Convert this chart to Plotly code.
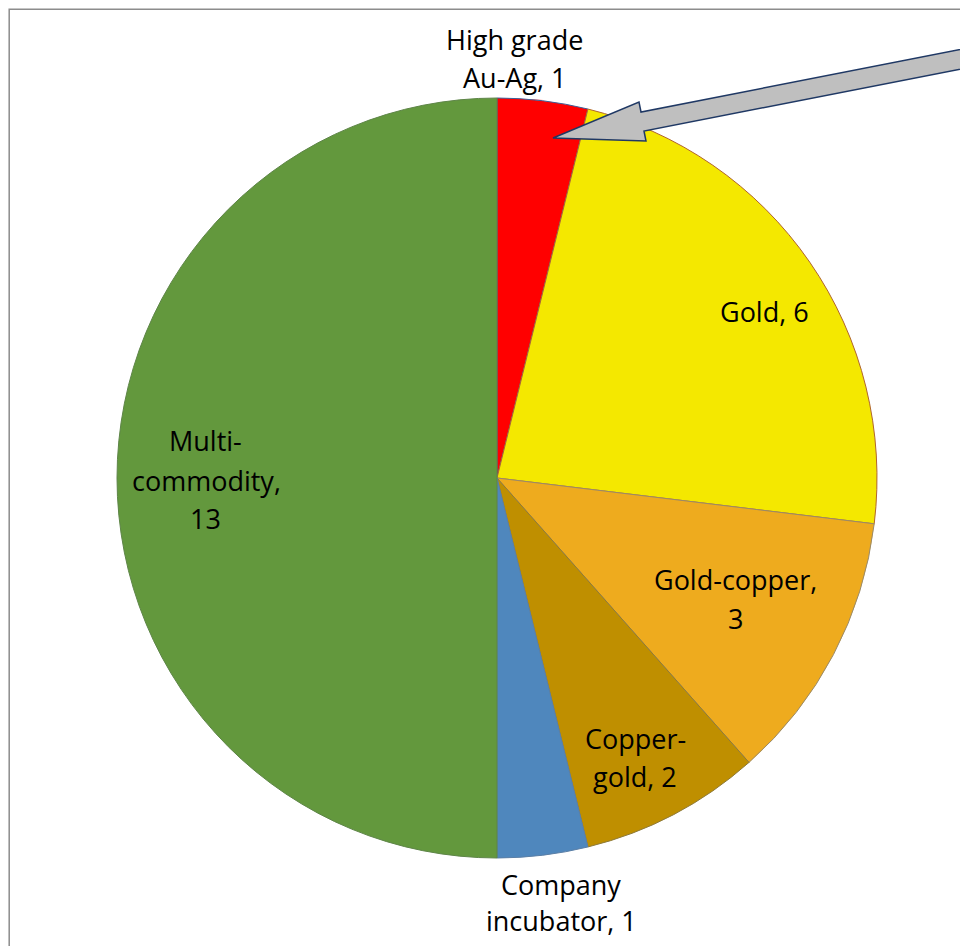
import plotly.graph_objects as go

# ---- data ----
categories = ["High grade Au-Ag", "Gold", "Gold-copper", "Copper-gold",
              "Company incubator", "Multi-commodity"]
values = [1, 6, 3, 2, 1, 13]
label_lines = [
    ["High grade", "Au-Ag, 1"],
    ["Gold, 6"],
    ["Gold-copper,", "3"],
    ["Copper-", "gold, 2"],
    ["Company", "incubator, 1"],
    ["Multi-", "commodity,", "13"],
]

# ---- styling ----
fill_colors = ["#FF0000", "#F4E800", "#EEAB1E", "#BF8F00", "#4F87BD", "#63983D"]
edge_colors = ["#3F5E96", "#B0652E", "#9A8A6A", "#8E7A3A", "#5B7FA6", "#5E8548"]

OFF = 8          # page body margin
W, H = 960, 938  # figure size
CX, CY, R = 497, 478, 380  # pie geometry in screen pixels

def px(x):
    return (x - OFF) / W

def py(y):
    return 1 - (y - OFF) / H

# label line centres (screen pixels) for each slice's text lines
label_pos = [
    [(515, 40), (515, 77)],
    [(764, 311)],
    [(735, 579), (735, 618)],
    [(635, 738), (635, 776)],
    [(561, 884), (561, 920)],
    [(205, 441), (206, 480), (205, 518)],
]

fig = go.Figure(go.Pie(
    labels=categories,
    values=values,
    sort=False,
    direction="clockwise",
    rotation=0,
    textinfo="none",
    hoverinfo="label+value",
    marker=dict(colors=fill_colors, line=dict(color=edge_colors, width=1)),
    domain=dict(x=[px(CX - R), px(CX + R)], y=[py(CY + R), py(CY - R)]),
    showlegend=False,
))

annotations = []
for lines, poss in zip(label_lines, label_pos):
    for t, (x, y) in zip(lines, poss):
        annotations.append(dict(
            text=t, x=px(x), y=py(y), xref="paper", yref="paper",
            xanchor="center", yanchor="middle", showarrow=False,
            font=dict(family="Open Sans", size=27, color="#000000"),
        ))

# block arrow pointing at the High grade slice
arrow_pts = [(553, 138), (639, 102), (641, 112), (1000, 41.7),
             (1000, 61.5), (644, 131), (646, 141)]
path = "M " + " L ".join(f"{px(x):.5f},{py(y):.5f}" for x, y in arrow_pts) + " Z"

shapes = [
    dict(type="rect", xref="paper", yref="paper",
         x0=px(9.2), y0=py(9.2), x1=px(1000), y1=py(1000),
         line=dict(color="#8C8C8C", width=1.5), fillcolor="rgba(0,0,0,0)",
         layer="below"),
    dict(type="path", xref="paper", yref="paper", path=path,
         fillcolor="#BFBFBF", line=dict(color="#1F3864", width=1.5),
         layer="above"),
]

fig.update_layout(
    width=W, height=H,
    margin=dict(l=0, r=0, t=0, b=0),
    paper_bgcolor="white", plot_bgcolor="white",
    annotations=annotations,
    shapes=shapes,
)

fig.write_html("out.html")
